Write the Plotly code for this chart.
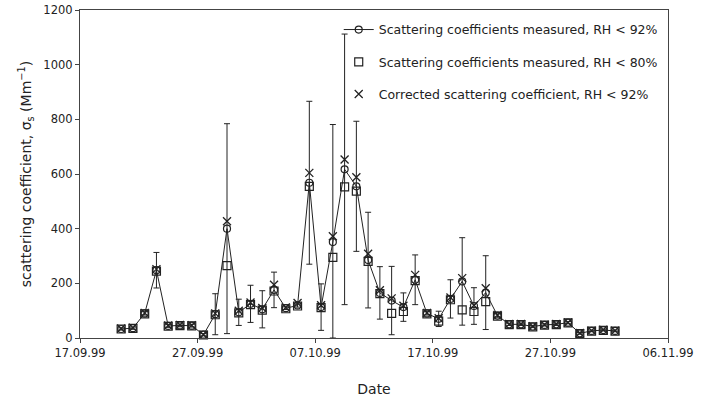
import plotly.graph_objects as go
import pandas as pd

dates = pd.date_range("1999-09-20 12:00", "1999-11-01 12:00", freq="D")

rh92 = [33, 36, 90, 248, 44, 46, 45, 12, 87, 400, 94, 125, 105, 176, 109, 119, 568, 113, 351, 617,
        555, 285, 165, 137, 113, 213, 90, 70, 143, 207, 117, 166, 82, 50, 50, 42, 48, 50, 56, 17,
        26, 29, 26]
rh80 = [33, 35, 88, 245, 43, 45, 44, 11, 85, 265, 92, 122, 102, 172, 107, 117, 555, 111, 295, 553,
        537, 280, 162, 90, 97, 210, 88, 62, 140, 103, 97, 133, 80, 49, 49, 41, 47, 49, 55, 16,
        25, 28, 25]
corrected = [35, 38, 92, 252, 46, 48, 47, 12, 90, 427, 100, 130, 110, 195, 112, 128, 604, 120, 372, 653,
             588, 308, 175, 145, 118, 231, 92, 72, 148, 219, 120, 182, 84, 51, 51, 43, 49, 51, 57, 18,
             27, 30, 27]
err = [4, 4, 6, 65, 5, 5, 5, 4, 75, 384, 48, 68, 68, 65, 5, 6, 298, 85, 430, 495,
       238, 175, 96, 125, 52, 91, 6, 28, 70, 160, 67, 135, 6, 4, 4, 4, 4, 4, 4, 3,
       3, 3, 3]
err_minus = [min(e, v) for e, v in zip(err, rh92)]

labels = ["Scattering coefficients measured, RH < 92%",
          "Scattering coefficients measured, RH < 80%",
          "Corrected scattering coefficient, RH < 92%"]

FONT = "DejaVu Sans, Liberation Sans, Arial, sans-serif"

fig = go.Figure()
# error bars (no legend entry)
fig.add_trace(go.Scatter(
    x=dates, y=rh92, mode="markers", showlegend=False, hoverinfo="skip",
    marker=dict(size=1, opacity=0),
    error_y=dict(type="data", array=err, arrayminus=err_minus, color="#222", thickness=1, width=3),
))
fig.add_trace(go.Scatter(
    x=dates, y=rh92, name=labels[0], mode="lines+markers", legendgroup="a",
    line=dict(color="#222", width=1),
    marker=dict(symbol="circle-open", size=7, color="#222", line=dict(width=1.2)),
    cliponaxis=False,
))
fig.add_trace(go.Scatter(
    x=dates, y=rh80, name=labels[1], mode="markers", legendgroup="b",
    marker=dict(symbol="square-open", size=8, color="#222", line=dict(width=1.2)),
    cliponaxis=False,
))
fig.add_trace(go.Scatter(
    x=dates, y=corrected, name=labels[2], mode="markers", legendgroup="c",
    marker=dict(symbol="x-thin-open", size=8, color="#222", line=dict(width=1.3)),
    cliponaxis=False,
))

fig.update_layout(
    width=705, height=397,
    margin=dict(l=80, r=37, t=10, b=59),
    paper_bgcolor="white", plot_bgcolor="white",
    font=dict(family=FONT, size=11.5, color="#222"),
    legend=dict(x=0.44, y=0.985, xanchor="left", yanchor="top", bgcolor="rgba(0,0,0,0)",
                font=dict(size=12.5, color="#222"), tracegroupgap=13, traceorder="grouped"),
    xaxis=dict(type="date", range=["1999-09-17", "1999-11-06"], tick0="1999-09-17",
               dtick=864000000, tickformat="%d.%m.%y", showgrid=False, zeroline=False,
               showline=True, linecolor="#444", linewidth=1.2, mirror=True,
               ticks="outside", ticklen=4, tickcolor="#444", automargin=False,
               title=dict(text="Date", font=dict(size=14), standoff=25)),
    yaxis=dict(range=[0, 1200], dtick=200, showgrid=False, zeroline=False,
               showline=True, linecolor="#444", linewidth=1.2, mirror=True,
               ticks="outside", ticklen=4, tickcolor="#444", automargin=False,
               title=dict(text="scattering coefficient, σ<sub>s</sub> (Mm<sup>−1</sup>)",
                          font=dict(size=14), standoff=8)),
)

fig.write_html("out.html")
